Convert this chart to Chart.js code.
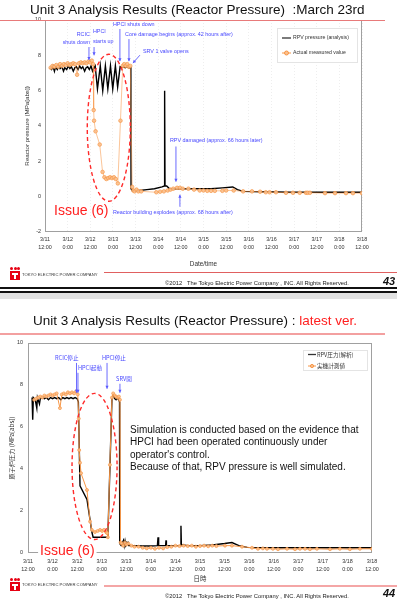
<!DOCTYPE html>
<html><head><meta charset="utf-8">
<script src="https://cdn.jsdelivr.net/npm/chart.js@4.4.1/dist/chart.umd.min.js"></script>
<style>
html,body{margin:0;padding:0;}
body{width:397px;height:600px;position:relative;background:#fff;overflow:hidden;font-family:"Liberation Sans",Arial,sans-serif;}
.abs{position:absolute;white-space:pre;z-index:2;}
canvas{position:absolute;left:0;z-index:1;}
.logo{position:absolute;z-index:2;}
.logo .d{position:absolute;width:3px;height:3px;border-radius:50%;background:#e60012;top:0;}
.logo .b{position:absolute;left:0;top:4px;width:10px;height:9px;background:#e60012;}
.logo .b i{position:absolute;left:4px;top:2px;width:2px;height:6px;background:#fff;}
.logo .b s{position:absolute;left:2px;top:2px;width:6px;height:2px;background:#fff;}
</style></head><body>
<script>
// ---------- data ----------
const xTickDates = ['3/11','3/12','3/12','3/13','3/13','3/14','3/14','3/15','3/15','3/16','3/16','3/17','3/17','3/18','3/18'];
const xTickTimes = ['12:00','0:00','12:00','0:00','12:00','0:00','12:00','0:00','12:00','0:00','12:00','0:00','12:00','0:00','12:00'];
const topYTicks = [-2,0,2,4,6,8,10];
const bottomYTicks = [0,2,4,6,8,10];

// hours since 3/11 12:00 ; pressure MPa[abs]
const topAnalysisHours = [2.6,3.5,4.2,5,5.6,6.5,7.3,8,9,9.8,10.5,11.5,12.4,13.2,14,15,15.8,16.6,17.5,18.4,19.2,20,21,21.8,22.6,23.5,24.4,25.2,26,26.6,27.8,29.3,30.6,32.0,33.3,34.7,35.9,37.3,38.5,39.8,40.5,41.5,42.5,43.5,44.5,45.5,45.6,46.5,48,50,54,58,62,63.2,63.4,63.6,64.5,66,70,76,82,88,94,99.5,102,105,115,130,145,160,168];
const topAnalysisMPa   = [7.3,7.2,7.4,7.1,7.35,7.2,7.4,7.25,7.35,7.1,7.3,7.2,7.4,7.25,7.35,7.1,7.3,7.35,7.2,7.4,7.25,7.35,7.1,7.3,7.35,7.2,7.4,7.1,7.3,7.4,6.1,7.4,6.0,7.4,6.1,7.4,6.1,7.4,6.2,7.35,7.3,7.35,7.3,7.35,7.3,7.3,0.45,0.3,0.3,0.35,0.4,0.45,0.55,0.6,6.0,0.6,0.6,0.45,0.45,0.45,0.45,0.45,0.5,0.55,0.4,0.3,0.28,0.25,0.25,0.25,0.25];
const topMeasuredHours = [3,4,5,6,7,8,9,10,11,12,13,14,15,16,17,18,19,20,21,22,23,24,24.8,25.5,25.8,26,26.8,29,30.5,31.5,32.5,33.5,34.5,35.5,36.5,37.5,38.6,40,41.2,42,42.8,43.6,44.4,45.2,46.2,46.8,47.5,48.5,49.5,51,59,61,63,65,66.5,68,70,71.5,73,76,79,82,84,86,88,90,94,96,100,105,109.7,114,117,119,122.4,127.7,131.4,135,138.3,139.2,140.4,148.4,153.7,159.5,163.2,168];
const topMeasuredMPa   = [7.3,7.4,7.35,7.45,7.35,7.5,7.4,7.5,7.45,7.55,7.45,7.5,7.55,7.5,6.9,7.55,7.6,7.55,7.6,7.55,7.65,7.6,7.7,7.5,4.9,4.3,3.7,2.95,1.4,1.1,1.0,1.05,1.1,1.05,1.1,1.0,0.75,4.3,7.4,7.5,7.4,7.5,7.35,7.4,0.55,0.35,0.3,0.4,0.3,0.3,0.25,0.28,0.3,0.35,0.4,0.45,0.5,0.5,0.45,0.45,0.4,0.35,0.35,0.33,0.33,0.33,0.33,0.35,0.35,0.3,0.3,0.28,0.25,0.25,0.25,0.22,0.22,0.22,0.22,0.22,0.22,0.2,0.2,0.2,0.2,0.2];

const bottomAnalysisHours = [2.0,2.3,2.6,3.5,4.3,4.6,5.6,6.0,7,8,9,10,11,12,13,14,15,16,17,18,19,20,21,22,23,24,24.6,25.4,28.8,31.2,31.8,35,38.5,39.0,41.0,41.6,42.3,43,43.6,44.2,44.7,44.8,45.5,45.8,46.6,47.0,47.4,47.8,48.8,49.2,52,56,60,63.2,63.5,63.8,67.2,67.4,67.6,70,74.5,74.7,74.9,78,84,90,96,99.6,103,107,115,130,145,160,168];
const bottomAnalysisMPa   = [7.4,6.35,7.4,7.3,6.9,7.4,7.1,7.35,7.4,7.35,7.4,7.3,7.4,7.35,7.4,7.35,7.4,7.3,7.4,7.35,7.4,7.35,7.4,7.35,7.4,7.35,7.2,3.2,2.55,1.0,0.75,0.75,0.75,0.75,7.35,7.5,7.35,7.3,7.4,7.3,7.2,0.45,0.35,0.4,0.6,0.35,0.57,0.35,0.5,0.35,0.35,0.33,0.33,0.35,0.75,0.35,0.35,0.6,0.35,0.35,0.35,1.3,0.4,0.35,0.35,0.38,0.45,0.5,0.35,0.27,0.25,0.25,0.25,0.25,0.25];
const bottomMeasuredHours = [3,4,5,6,7,8,9,10,11,12,13,14,15.6,16.5,17.5,18.5,19.5,20.5,21.5,22.5,23.5,24.3,24.8,25.0,25.4,25.9,28.8,30.3,31.2,32.7,34,35.2,36.2,37.1,38.1,38.6,39.0,40.0,41.0,41.6,42.3,43.0,43.7,44.4,44.9,45.2,45.8,46.5,47.3,48,49,50.5,52,54,56,58,60,62,64,66,68,70,72,74,76,78,80,82,84,86,88,90,92,96.2,99.6,104.5,109.4,112.3,114.7,116.7,119.6,122.1,126.5,130.4,132.8,135.3,137.7,141.1,147.5,152.3,157.2,162.1,168];
const bottomMeasuredMPa   = [7.3,7.35,7.4,7.45,7.4,7.5,7.45,7.5,7.55,7.5,7.55,7.6,6.9,7.55,7.6,7.55,7.65,7.6,7.65,7.6,7.7,7.55,6.4,4.9,4.3,3.8,3.0,1.5,1.1,1.0,1.05,1.1,1.05,1.1,1.0,0.95,0.75,4.2,7.4,7.6,7.5,7.45,7.4,7.45,7.3,0.5,0.45,0.35,0.5,0.4,0.45,0.35,0.3,0.3,0.25,0.22,0.25,0.2,0.25,0.22,0.28,0.3,0.35,0.33,0.35,0.33,0.35,0.3,0.33,0.35,0.32,0.35,0.33,0.35,0.35,0.3,0.25,0.2,0.22,0.2,0.2,0.18,0.2,0.18,0.2,0.2,0.18,0.2,0.18,0.2,0.18,0.2,0.2];

// ---------- labels / annotations ----------
const topLegend = ['RPV pressure (analysis)','Actual measured value'];
const bottomLegend = ['RPV圧力(解析)','実機計測値'];
const topAnno = {
  texts:[
    {h:23.8,v:9.2,t:'RCIC',align:'right'},
    {h:23.8,v:8.75,t:'shuts down',align:'right'},
    {h:25.4,v:9.32,t:'HPCI'},
    {h:25.4,v:8.8,t:'starts up'},
    {h:36.0,v:9.72,t:'HPCI shuts down'},
    {h:42.4,v:9.2,t:'Core damage begins (approx. 42 hours after)'},
    {h:51.9,v:8.24,t:'SRV 1 valve opens'},
    {h:66.2,v:3.18,t:'RPV damaged (approx. 66 hours later)'},
    {h:36.0,v:-0.91,t:'Reactor building explodes (approx. 68 hours after)'},
    {h:4.8,v:-0.8,t:'Issue (6)',red:true}
  ],
  arrows:[
    {h1:23.3,v1:8.47,h2:23.3,v2:7.73},
    {h1:26.0,v1:8.47,h2:26.0,v2:8.0},
    {h1:39.7,v1:9.49,h2:39.7,v2:7.67},
    {h1:44.5,v1:8.92,h2:44.5,v2:7.67},
    {h1:50.3,v1:8.01,h2:46.6,v2:7.56},
    {h1:69.4,v1:2.84,h2:69.4,v2:0.85},
    {h1:71.5,v1:-0.57,h2:71.5,v2:0.11}
  ],
  ellipse:{h:33.8,v:3.9,rh:11.4,rv:4.16},
  font:'5.4px "Liberation Sans", Arial, sans-serif',
  legend:{labels:topLegend,dx:-85,dy:8,w:80,h:34,rows:[10,25],sx:5,sw:9,tx:11,font:'5.2px "Liberation Sans", Arial, sans-serif',mr:2}
};
const bottomAnno = {
  texts:[
    {h:13.2,v:9.29,t:'RCIC停止'},
    {h:24.4,v:8.82,t:'HPCI起動'},
    {h:36.1,v:9.29,t:'HPCI停止'},
    {h:43.0,v:8.29,t:'SRV開'},
    {h:5.9,v:0.1,t:'Issue (6)',red:true,bg:true}
  ],
  arrows:[
    {h1:23.7,v1:9.05,h2:23.7,v2:7.63},
    {h1:24.4,v1:8.58,h2:24.4,v2:7.63},
    {h1:38.6,v1:9.05,h2:38.6,v2:7.82},
    {h1:44.9,v1:8.06,h2:44.9,v2:7.63}
  ],
  ellipse:{h:32.5,v:4.12,rh:11.0,rv:3.48},
  font:'5.6px "Noto Sans CJK JP", "Liberation Sans", sans-serif',
  legend:{labels:bottomLegend,dx:-69,dy:7,w:64,h:20,rows:[4.5,16],sx:5,sw:8,tx:9,font:'5.6px "Noto Sans CJK JP", sans-serif',mr:1.6}
};

function pts(hs, vs){ return hs.map((h,i)=>({x:h,y:vs[i]})); }

function annoPlugin(cfg){
  return {
    id:'anno',
    beforeDatasetsDraw(chart){
      const {ctx, chartArea:a} = chart;
      ctx.save();
      ctx.strokeStyle = '#a0a0a0'; ctx.lineWidth = 1;
      ctx.strokeRect(Math.round(a.left)+0.5, Math.round(a.top)+0.5, Math.round(a.width)-1, Math.round(a.height)-1);
      ctx.restore();
    },
    afterDatasetsDraw(chart){
      const {ctx, chartArea:a, scales:{x, y}} = chart;
      const X = h=>x.getPixelForValue(h), Y = v=>y.getPixelForValue(v);
      ctx.save();
      const e = cfg.ellipse;
      const cx = X(e.h), cy = Y(e.v);
      ctx.setLineDash([4,3]); ctx.strokeStyle = '#ff2a2a'; ctx.lineWidth = 1.4;
      ctx.beginPath(); ctx.ellipse(cx, cy, X(e.h+e.rh)-cx, cy-Y(e.v+e.rv), 0, 0, Math.PI*2); ctx.stroke();
      ctx.setLineDash([]);
      ctx.strokeStyle = '#5a5aff'; ctx.fillStyle = '#5a5aff'; ctx.lineWidth = 0.9;
      for (const r of cfg.arrows){
        const x1=X(r.h1), y1=Y(r.v1), x2=X(r.h2), y2=Y(r.v2);
        ctx.beginPath(); ctx.moveTo(x1,y1); ctx.lineTo(x2,y2); ctx.stroke();
        const ang = Math.atan2(y2-y1, x2-x1), L=3, W=1.6;
        ctx.beginPath(); ctx.moveTo(x2,y2);
        ctx.lineTo(x2-L*Math.cos(ang)+W*Math.sin(ang), y2-L*Math.sin(ang)-W*Math.cos(ang));
        ctx.lineTo(x2-L*Math.cos(ang)-W*Math.sin(ang), y2-L*Math.sin(ang)+W*Math.cos(ang));
        ctx.closePath(); ctx.fill();
      }
      ctx.textBaseline = 'middle';
      for (const t of cfg.texts){
        const px = X(t.h), py = Y(t.v);
        if (t.red){
          ctx.font = '14px "Liberation Sans", Arial, sans-serif';
          ctx.textAlign = 'left';
          if (t.bg){ const w = ctx.measureText(t.t).width; ctx.fillStyle='#fff'; ctx.fillRect(px-2, py-6, w+4, 12); }
          ctx.fillStyle = '#ff2020';
        } else {
          ctx.font = cfg.font; ctx.textAlign = t.align || 'left'; ctx.fillStyle = '#4848ff';
        }
        ctx.fillText(t.t, px, py);
      }
      const lg = cfg.legend;
      const bx = a.right + lg.dx, by = a.top + lg.dy;
      ctx.fillStyle = '#fff'; ctx.fillRect(bx, by, lg.w, lg.h);
      ctx.strokeStyle = '#e4e4e4'; ctx.lineWidth = 1; ctx.strokeRect(bx+0.5, by+0.5, lg.w, lg.h);
      ctx.font = lg.font; ctx.textAlign='left'; ctx.textBaseline='middle';
      let ry = by + lg.rows[0];
      ctx.strokeStyle = '#333'; ctx.lineWidth = 1.3;
      ctx.beginPath(); ctx.moveTo(bx+lg.sx, ry); ctx.lineTo(bx+lg.sx+lg.sw, ry); ctx.stroke();
      ctx.fillStyle = '#333'; ctx.fillText(lg.labels[0], bx+lg.sx+lg.tx, ry);
      ry = by + lg.rows[1];
      ctx.strokeStyle = '#f79646'; ctx.lineWidth = 1;
      ctx.beginPath(); ctx.moveTo(bx+lg.sx, ry); ctx.lineTo(bx+lg.sx+lg.sw, ry); ctx.stroke();
      ctx.fillStyle = '#fbc08e'; ctx.beginPath(); ctx.arc(bx+lg.sx+lg.sw/2, ry, lg.mr, 0, Math.PI*2); ctx.fill(); ctx.stroke();
      ctx.fillStyle = '#333'; ctx.fillText(lg.labels[1], bx+lg.sx+lg.tx, ry);
      ctx.restore();
    }
  };
}

function makeChart(canvas, o){
  return new Chart(canvas, {
    type:'line',
    data:{datasets:[
      {data:pts(o.mh,o.mv), borderColor:o.mLine, borderWidth:1, pointRadius:o.pr, pointBackgroundColor:'rgba(251,192,142,0.9)', pointBorderColor:'#f79646', pointBorderWidth:0.7, tension:0},
      {data:pts(o.ah,o.av), borderColor:'#000', borderWidth:1.4, pointRadius:0, tension:0}
    ]},
    options:{
      responsive:false, animation:false, devicePixelRatio:1,
      layout:{padding:o.pad},
      plugins:{legend:{display:false}, tooltip:{enabled:false}},
      scales:{
        x:{type:'linear', min:0, max:168,
          afterBuildTicks(s){ s.ticks = xTickDates.map((d,i)=>({value:i*12})); },
          afterFit(s){ s.height = o.xh; },
          grid:{display:o.xgrid, color:'#e6e6e6', drawTicks:false, lineWidth:0.7},
          border:{display:false, dash:[1,2]},
          ticks:{autoSkip:false, maxRotation:0, padding:o.xtp, color:'#333', font:{size:5.4, family:'"Liberation Sans", Arial, sans-serif', lineHeight:o.xlh},
            callback(v){ const i = Math.round(v/12); return [xTickDates[i], xTickTimes[i]]; }},
          title:{display:true, text:o.xt, color:'#333', font:{size:6.4, family:o.tf, lineHeight:1.2}, padding:{top:0,bottom:o.xtpad}}
        },
        y:{type:'linear', min:o.ymin, max:10,
          afterBuildTicks(s){ s.ticks = o.yt.map(v=>({value:v})); },
          afterFit(s){ s.width = o.yw; },
          grid:{display:false, drawTicks:false}, border:{display:false},
          ticks:{padding:o.ytp, color:'#333', font:{size:5.4, family:'"Liberation Sans", Arial, sans-serif'}, callback(v){ return String(v); }},
          title:{display:true, text:o.yT, color:'#333', font:{size:6.2, family:o.tf, lineHeight:1.2}, padding:{top:o.ytpad,bottom:0}}
        }
      }
    },
    plugins:[annoPlugin(o.anno)]
  });
}
</script>

<!-- ===== slide 43 ===== -->
<div class="abs" style="left:30px;top:2px;font-size:13.5px;line-height:16px;color:#111;">Unit 3 Analysis Results (Reactor Pressure)  :March 23rd</div>
<div class="abs" style="left:0;top:20px;width:385px;height:1px;background:#e87a7a;"></div>
<canvas id="c1" width="397" height="272" style="top:0;"></canvas>
<div class="logo" style="left:10px;top:267px;width:10px;height:14px;"><span class="d" style="left:0"></span><span class="d" style="left:3.5px"></span><span class="d" style="left:7px"></span><span class="b"><s></s><i></i></span></div>
<div class="abs" style="left:22px;top:272px;font-size:4.2px;line-height:6px;color:#333;">TOKYO ELECTRIC POWER COMPANY</div>
<div class="abs" style="left:104px;top:272px;width:293px;height:1px;background:#e06060;"></div>
<div class="abs" style="left:165px;top:279px;font-size:5.8px;line-height:8px;color:#222;">©2012   The Tokyo Electric Power Company , INC. All Rights Reserved.</div>
<div class="abs" style="left:383px;top:275px;font-size:11px;line-height:12px;font-weight:bold;font-style:italic;color:#111;">43</div>
<div class="abs" style="left:0;top:287px;width:397px;height:2px;background:#111;"></div>
<div class="abs" style="left:0;top:291px;width:397px;height:2px;background:#111;"></div>
<div class="abs" style="left:0;top:293px;width:397px;height:6px;background:#e2e2e2;"></div>

<!-- ===== slide 44 ===== -->
<div class="abs" style="left:33px;top:313px;font-size:13.5px;line-height:16px;color:#111;">Unit 3 Analysis Results (Reactor Pressure) : <span style="color:#ff2020">latest ver.</span></div>
<div class="abs" style="left:0;top:333px;width:385px;height:1.5px;background:#f3a0a0;"></div>
<canvas id="c2" width="397" height="254" style="top:330px;"></canvas>
<div class="abs" style="left:130px;top:424px;font-size:10px;line-height:12.4px;color:#111;">Simulation is conducted based on the evidence that
HPCI had been operated continuously under
operator's control.
Because of that, RPV pressure is well simulated.</div>
<div class="logo" style="left:10px;top:578px;width:10px;height:14px;"><span class="d" style="left:0"></span><span class="d" style="left:3.5px"></span><span class="d" style="left:7px"></span><span class="b"><s></s><i></i></span></div>
<div class="abs" style="left:22px;top:582px;font-size:4.2px;line-height:6px;color:#333;">TOKYO ELECTRIC POWER COMPANY</div>
<div class="abs" style="left:104px;top:585px;width:293px;height:2px;background:#f4a6a6;"></div>
<div class="abs" style="left:165px;top:592px;font-size:5.8px;line-height:8px;color:#222;">©2012   The Tokyo Electric Power Company , INC. All Rights Reserved.</div>
<div class="abs" style="left:383px;top:587px;font-size:11px;line-height:12px;font-weight:bold;font-style:italic;color:#111;">44</div>

<script>
makeChart(document.getElementById('c1'), {
  ah:topAnalysisHours, av:topAnalysisMPa, mh:topMeasuredHours, mv:topMeasuredMPa,
  mLine:'rgba(247,150,70,0.55)', pr:1.8,
  pad:{top:20,right:35,left:20,bottom:0}, xh:40, yw:25, xtp:4, xlh:1.45, xtpad:4, ytp:4, ytpad:4,
  xgrid:true, ymin:-2, yt:topYTicks, xt:'Date/time', yT:'Reactor pressure (MPa[abs])',
  tf:'"Liberation Sans", Arial, sans-serif', anno:topAnno
});
makeChart(document.getElementById('c2'), {
  ah:bottomAnalysisHours, av:bottomAnalysisMPa, mh:bottomMeasuredHours, mv:bottomMeasuredMPa,
  mLine:'#f79646', pr:1.5,
  pad:{top:13,right:25,left:0,bottom:0}, xh:31, yw:28, xtp:5.5, xlh:1.3, xtpad:2, ytp:5, ytpad:8,
  xgrid:false, ymin:0, yt:bottomYTicks, xt:'日時', yT:'原子炉圧力 (MPa[abs])',
  tf:'"Noto Sans CJK JP", sans-serif', anno:bottomAnno
});
</script>
</body></html>
